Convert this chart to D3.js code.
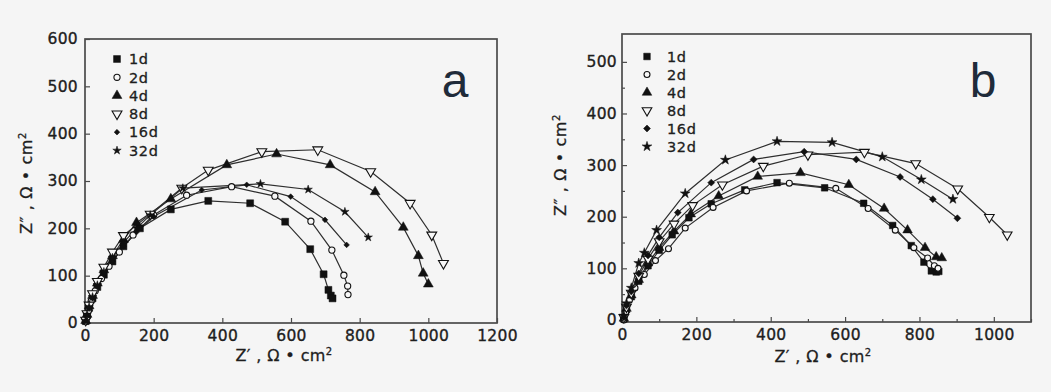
<!DOCTYPE html>
<html><head><meta charset="utf-8">
<script src="https://cdn.jsdelivr.net/npm/d3@7"></script>
<style>body{margin:0;background:#f5f5f5}svg{display:block}</style>
</head><body><svg id="c" width="1051" height="392"></svg>
<script>
const categories = ["1d","2d","4d","8d","16d","32d"];
const aXTicks = [0,200,400,600,800,1000,1200];
const aYTicks = [0,100,200,300,400,500,600];
const bXTicks = [0,200,400,600,800,1000];
const bXMinor = [100,300,500,700,900,1100];
const bYTicks = [0,100,200,300,400,500];
const bYMinor = [50,150,250,350,450];

// panel a: [Z', Z'']
const a1d = [[2,4],[6,16],[12,32],[22,52],[36,76],[55,102],[80,130],[112,162],[160,200],[250,240],[359,258],[481,253],[583,214],[656,156],[695,103],[709,70],[716,58],[721,52]];
const a2d = [[2,3],[5,14],[10,28],[18,46],[30,68],[48,94],[70,120],[100,150],[140,186],[200,228],[296,270],[427,288],[553,268],[658,215],[719,154],[754,101],[765,78],[766,60]];
const a4d = [[2,5],[6,18],[12,36],[22,58],[36,84],[55,112],[80,142],[112,176],[150,212],[250,262],[413,334],[558,357],[714,334],[845,277],[927,202],[971,142],[985,105],[1000,82]];
const a8d = [[2,6],[6,20],[12,38],[22,62],[36,88],[55,118],[80,150],[112,185],[190,230],[282,285],[359,323],[515,362],[678,366],[832,320],[947,253],[1010,186],[1044,126]];
const a16d = [[2,4],[6,16],[12,32],[22,52],[36,76],[55,102],[80,130],[112,162],[150,192],[200,225],[340,281],[471,292],[599,267],[699,218],[762,165]];
const a32d = [[2,5],[6,18],[12,34],[22,55],[36,80],[55,108],[80,138],[112,170],[150,200],[190,228],[285,285],[511,294],[650,282],[757,235],[825,181]];

// panel b: [Z', Z'']
const b1d = [[5,2],[12,20],[25,45],[45,75],[70,105],[100,135],[135,165],[180,198],[240,225],[330,252],[417,266],[545,256],[650,226],[728,183],[778,144],[812,112],[832,95],[845,93],[852,94]];
const b2d = [[5,0],[10,15],[20,38],[35,62],[60,88],[90,115],[125,138],[170,178],[245,218],[335,250],[450,265],[575,255],[662,216],[735,174],[785,140],[822,120],[840,105],[850,100]];
const b4d = [[5,3],[12,22],[25,48],[45,78],[70,110],[100,140],[140,172],[185,205],[260,240],[365,278],[480,285],[610,262],[705,216],[768,174],[815,140],[845,122],[860,120]];
const b8d = [[5,5],[12,25],[25,52],[45,85],[70,118],[100,152],[140,186],[190,222],[270,262],[380,298],[500,320],[652,325],[790,303],[903,254],[988,199],[1036,165]];
const b16d = [[5,5],[12,28],[25,55],[45,90],[70,125],[100,160],[150,208],[240,266],[354,311],[490,326],[630,311],[748,277],[836,234],[902,197]];
const b32d = [[5,8],[12,32],[25,62],[45,110],[60,130],[93,174],[170,245],[278,310],[417,346],[565,344],[700,316],[805,272],[890,234]];

const svg = d3.select("#c");
const FONT = "DejaVu Sans, sans-serif";
const TXT = "#1e1e1e";
const symTypes = [d3.symbolSquare, d3.symbolCircle, d3.symbolTriangle, d3.symbolTriangle, d3.symbolSquare, d3.symbolStar];
const symRot = [0,0,0,180,45,0];
const symOpen = [false,true,false,true,false,false];

function drawMarker(g, i, cx, cy, sizes) {
  g.append("path")
    .attr("d", d3.symbol().type(symTypes[i]).size(sizes[i])())
    .attr("transform", `translate(${cx},${cy}) rotate(${symRot[i]})`)
    .attr("fill", symOpen[i] ? "#f7f7f7" : "#111")
    .attr("stroke", "#111").attr("stroke-width", symOpen[i] ? 1.1 : 0.5);
}

function panel(o) {
  const x = d3.scaleLinear().domain(o.xd).range(o.xr);
  const y = d3.scaleLinear().domain(o.yd).range(o.yr);
  const g = svg.append("g");
  const frameCol = "#4a4a4a";
  g.append("g").attr("transform", `translate(0,${o.yr[0]})`)
    .call(d3.axisBottom(x).tickValues(o.xTicks).tickSize(-5).tickPadding(7).tickFormat(d3.format("d")));
  if (o.xMinor) g.append("g").attr("transform", `translate(0,${o.yr[0]})`)
    .call(d3.axisBottom(x).tickValues(o.xMinor).tickSize(-3).tickFormat(""));
  g.append("g").attr("transform", `translate(${o.xr[0]},0)`)
    .call(d3.axisLeft(y).tickValues(o.yTicks).tickSize(-5).tickPadding(o.yPad).tickFormat(d3.format("d")));
  if (o.yMinor) g.append("g").attr("transform", `translate(${o.xr[0]},0)`)
    .call(d3.axisLeft(y).tickValues(o.yMinor).tickSize(-3).tickFormat(""));
  g.selectAll(".domain").remove();
  g.selectAll(".tick line").attr("stroke", frameCol).attr("stroke-width", 1.2);
  g.selectAll(".tick text").attr("font-family", FONT).attr("font-size", 15.5).attr("fill", TXT)
    .attr("stroke", TXT).attr("stroke-width", 0.35).attr("letter-spacing", 0.3);
  g.append("rect").attr("x", o.xr[0]).attr("y", o.yr[1])
    .attr("width", o.xr[1]-o.xr[0]).attr("height", o.yr[0]-o.yr[1])
    .attr("fill", "none").attr("stroke", frameCol).attr("stroke-width", 1.7);
  const line = d3.line().x(d => x(d[0])).y(d => y(d[1]));
  o.series.forEach(s => {
    g.append("path").datum(s).attr("d", line).attr("fill", "none").attr("stroke", "#2e2e2e").attr("stroke-width", 1.2);
  });
  o.series.forEach((s, i) => {
    s.forEach(d => drawMarker(g, i, x(d[0]), y(d[1]), o.sizes));
  });
  categories.forEach((c, i) => {
    const ly = o.leg.y + i*o.leg.dy;
    drawMarker(g, i, o.leg.mx, ly, o.sizes);
    g.append("text").attr("x", o.leg.tx).attr("y", ly).attr("dy", "0.36em")
      .attr("font-family", FONT).attr("font-size", 14.5).attr("fill", TXT)
      .attr("stroke", TXT).attr("stroke-width", 0.3).attr("letter-spacing", 0.6).text(c);
  });
  g.append("text").attr("x", o.letter.x).attr("y", o.letter.y).attr("text-anchor", "middle")
    .attr("font-family", "Liberation Sans, Arial, sans-serif").attr("font-size", 48).attr("fill", "#1f2b3a").text(o.letter.t);
  const xt = g.append("text").attr("x", o.xt.x).attr("y", o.xt.y).attr("text-anchor", "middle")
    .attr("font-family", FONT).attr("font-size", 16).attr("fill", TXT)
    .attr("stroke", TXT).attr("stroke-width", 0.3).attr("letter-spacing", 0.4);
  xt.append("tspan").text("Z\u2032 ,  \u03A9 \u2022 cm");
  xt.append("tspan").attr("dy", -6).attr("font-size", 10).text("2");
  const yt = g.append("text").attr("transform", `translate(${o.yt.x},${o.yt.y}) rotate(-90)`).attr("text-anchor", "middle")
    .attr("font-family", FONT).attr("font-size", 16).attr("fill", TXT)
    .attr("stroke", TXT).attr("stroke-width", 0.3).attr("letter-spacing", 0.6);
  yt.append("tspan").text("Z\u2033 ,  \u03A9 \u2022 cm");
  yt.append("tspan").attr("dy", -6).attr("font-size", 10).text("2");
}

panel({
  xd: [0,1200], xr: [85,497], yd: [0,600], yr: [323,39],
  xTicks: aXTicks, yTicks: aYTicks, yPad: 7,
  series: [a1d,a2d,a4d,a8d,a16d,a32d], sizes: [48,30,42,42,16,22],
  leg: {mx: 117, tx: 129, y: 59, dy: 18.3},
  letter: {t: "a", x: 455, y: 97},
  xt: {x: 284, y: 361}, yt: {x: 32, y: 183}
});
panel({
  xd: [0,1100], xr: [622,1031], yd: [-4,554], yr: [322,34],
  xTicks: bXTicks, xMinor: bXMinor, yTicks: bYTicks, yMinor: bYMinor, yPad: 5,
  series: [b1d,b2d,b4d,b8d,b16d,b32d], sizes: [44,28,40,40,24,30],
  leg: {mx: 647, tx: 667, y: 56.5, dy: 18},
  letter: {t: "b", x: 983, y: 97},
  xt: {x: 823, y: 362}, yt: {x: 566, y: 165}
});
</script>
</body></html>
